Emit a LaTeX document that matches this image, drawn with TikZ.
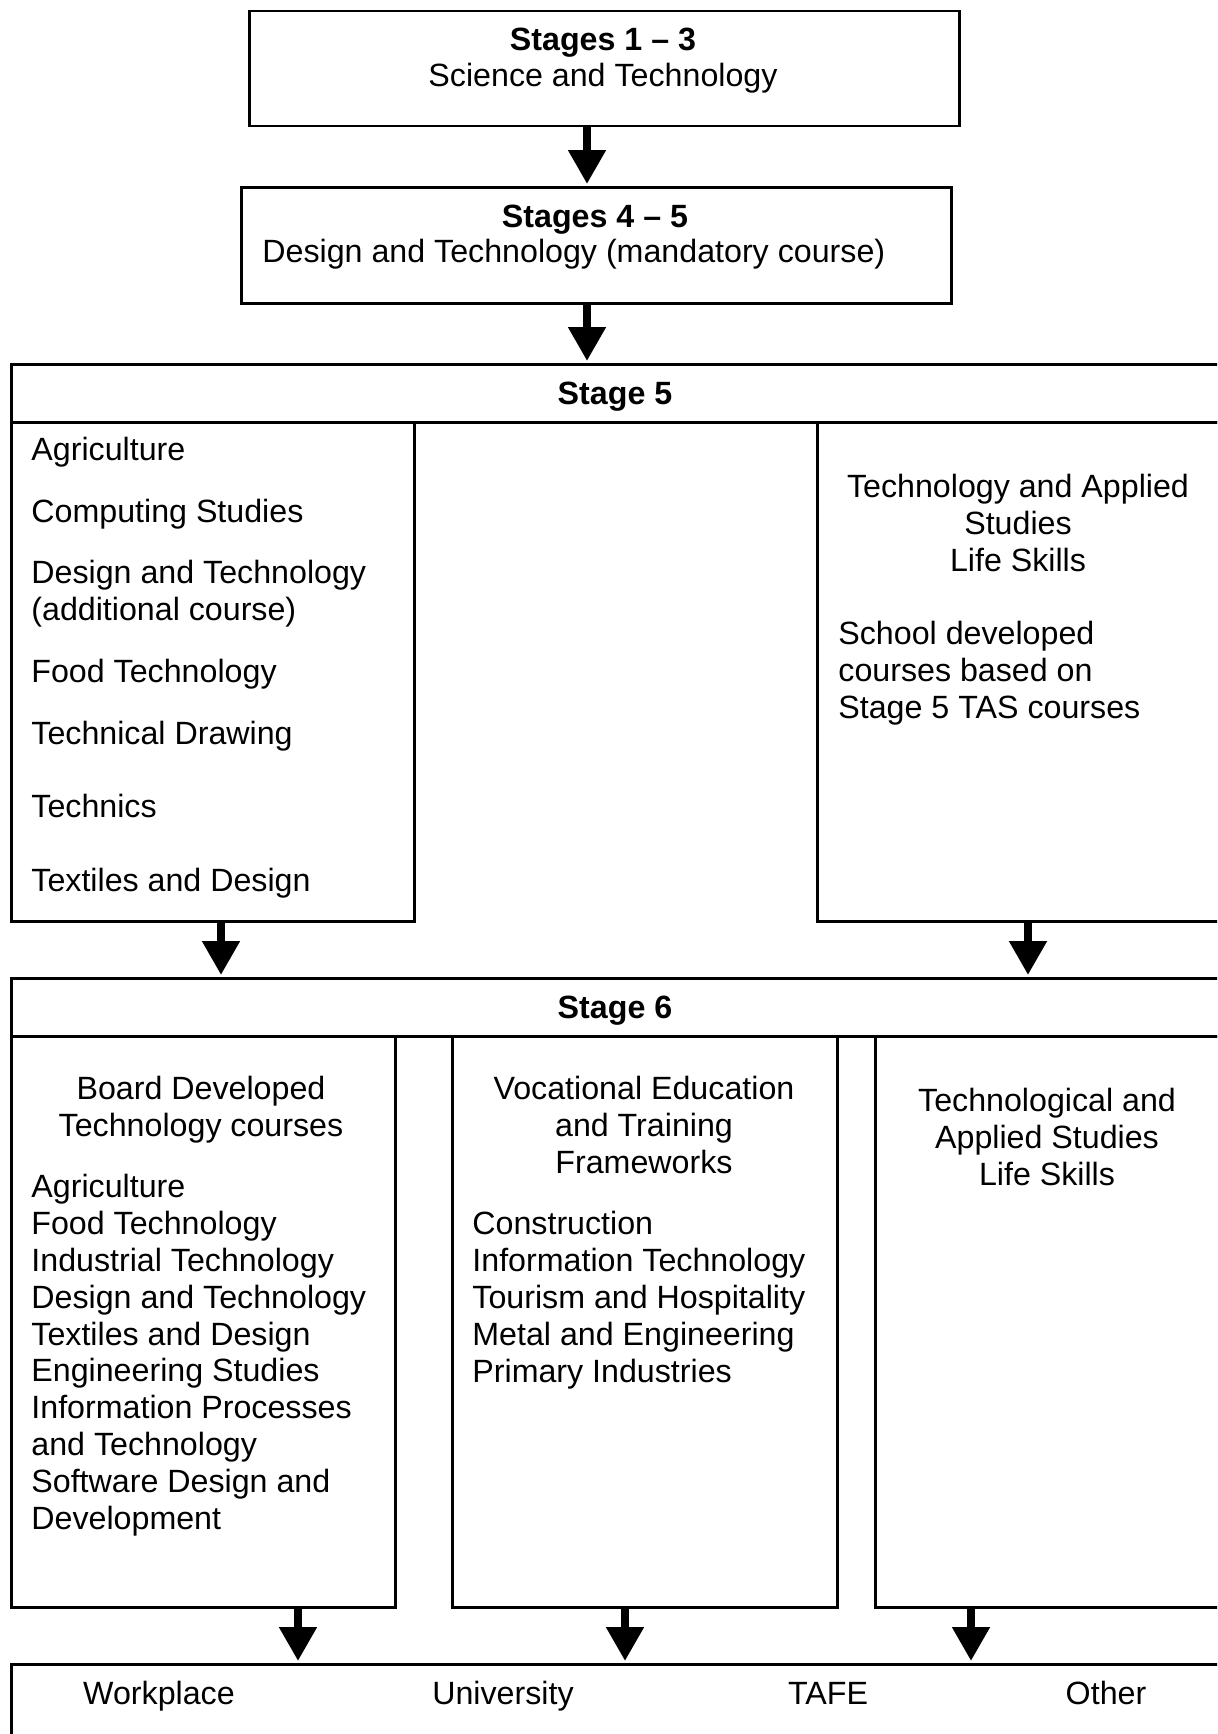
\documentclass[tikz,border=0pt]{standalone}
\usepackage{fontspec}
\setmainfont{Liberation Sans}
\usetikzlibrary{arrows.meta}

\tikzset{
  frame/.style={draw, line width=1.25pt, inner sep=0pt, anchor=north west},
  txt/.style={inner sep=0pt, font=\fontsize{16.1pt}{18.4pt}\selectfont},
  flow/.style={line width=4pt, -{Triangle[width=18pt,length=17pt]}, shorten >=1pt}
}

\begin{document}
\begin{tikzpicture}[x=0.5pt,y=-0.5pt]
\useasboundingbox (0,0) rectangle (1217,1734);
\clip (0,0) rectangle (1217,1734);

% ---- boxes (the wide ones run off the right edge) ----
\node[frame, minimum width=355pt, minimum height=57.5pt] (s13) at (248,10) {};
\node[frame, minimum width=355pt, minimum height=58pt] (s45) at (240,186) {};
\node[frame, minimum width=620pt, minimum height=29pt] (s5) at (10,363) {};
\node[frame, minimum width=201.5pt, minimum height=249.5pt] (s5a) at (10,421) {};
\node[frame, minimum width=215pt, minimum height=249.5pt] (s5b) at (816,421) {};
\node[frame, minimum width=620pt, minimum height=29pt] (s6) at (10,977) {};
\node[frame, minimum width=192pt, minimum height=285.5pt] (s6a) at (10,1035) {};
\node[frame, minimum width=192.5pt, minimum height=285.5pt] (s6b) at (451,1035) {};
\node[frame, minimum width=190pt, minimum height=285.5pt] (s6c) at (874,1035) {};
\node[frame, minimum width=620pt, minimum height=60pt] (out) at (10,1663) {};

% ---- stages 1-3 and 4-5 (base = last line) ----
\node[txt, anchor=base, align=center] (t13) at (603,87) {\textbf{Stages 1 – 3}\\Science and Technology};
\node[txt, anchor=base] (t45) at (595,227) {\textbf{Stages 4 – 5}};
\node[txt, anchor=base west] (t45b) at (262,262) {Design and Technology (mandatory course)};

% ---- stage 5 ----
\node[txt, anchor=base] (t5) at (615,404) {\textbf{Stage 5}};
\foreach \y/\t [count=\i] in {460/Agriculture, 522/Computing Studies,
    620/{Design and Technology\\(additional course)}, 682/Food Technology,
    744/Technical Drawing, 817/Technics, 891/Textiles and Design}
  \node[txt, anchor=base west, align=left] (c5-\i) at (31,\y) {\t};
\node[txt, anchor=base, align=center] (tas5) at (1018,571) {Technology and Applied\\Studies\\Life Skills};
\node[txt, anchor=base west, align=left] (sdc) at (838,718) {School developed\\courses based on\\Stage 5 TAS courses};

% ---- stage 6 ----
\node[txt, anchor=base] (t6) at (615,1018) {\textbf{Stage 6}};
\node[txt, anchor=base, align=center] (bd) at (201,1136) {Board Developed\\Technology courses};
\node[txt, anchor=base west, align=left] (bdl) at (31,1529) {Agriculture\\Food Technology\\Industrial Technology\\Design and Technology\\Textiles and Design\\Engineering Studies\\Information Processes\\and Technology\\Software Design and\\Development};
\node[txt, anchor=base, align=center] (vet) at (644,1173) {Vocational Education\\and Training\\Frameworks};
\node[txt, anchor=base west, align=left] (vetl) at (472,1382) {Construction\\Information Technology\\Tourism and Hospitality\\Metal and Engineering\\Primary Industries};
\node[txt, anchor=base, align=center] (tas6) at (1047,1185) {Technological and\\Applied Studies\\Life Skills};

% ---- after school ----
\foreach \x/\t [count=\i] in {159/Workplace, 503/University, 828/TAFE, 1106/Other}
  \node[txt, anchor=base] (o\i) at (\x,1704) {\t};

% ---- arrows ----
\coordinate (ax1) at (587,0);
\coordinate (ax2) at (221,0);
\coordinate (ax3) at (1028,0);
\coordinate (ax4) at (298,0);
\coordinate (ax5) at (625,0);
\coordinate (ax6) at (971,0);
\draw[flow] (s13.south -| ax1) -- (s45.north -| ax1);
\draw[flow] (s45.south -| ax1) -- (s5.north -| ax1);
\draw[flow] (s5a.south -| ax2) -- (s6.north -| ax2);
\draw[flow] (s5b.south -| ax3) -- (s6.north -| ax3);
\draw[flow] (s6a.south -| ax4) -- (out.north -| ax4);
\draw[flow] (s6b.south -| ax5) -- (out.north -| ax5);
\draw[flow] (s6c.south -| ax6) -- (out.north -| ax6);

\end{tikzpicture}
\end{document}
